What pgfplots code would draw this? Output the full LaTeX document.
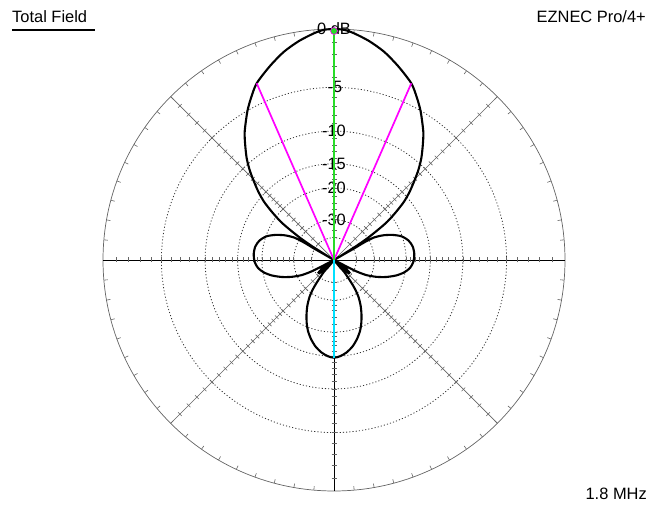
\documentclass[border=0pt]{standalone}
\usepackage{pgfplots}
\pgfplotsset{compat=1.18}
\usepackage{fontspec}
\setmainfont{Liberation Sans}
\definecolor{mag}{RGB}{255,0,255}
\definecolor{grn}{RGB}{40,220,40}
\definecolor{cyn}{RGB}{0,225,255}
\definecolor{gridg}{RGB}{100,100,100}
\definecolor{dotg}{RGB}{50,50,50}
\begin{document}
\begin{tikzpicture}
\begin{scope}[x=1bp,y=1bp,shift={(334bp,246bp)}]
% outer circle and its ticks
\draw[gridg,line width=0.7bp] (0,0) circle[radius=231bp];
\foreach \a in {0,5,...,355}{
  \draw[gridg,line width=0.6bp] (\a:231bp) -- (\a:227bp);
}
% dotted rings (ARRL log scale)
\foreach \r in {172.6,128.9,96.3,72.1,40.2,22.4}{
  \draw[dotg,line width=0.8bp,dash pattern=on 1.1bp off 2.1bp] (0,0) circle[radius=\r bp];
}
% spokes
\foreach \a in {45,135,225,315}{
  \draw[gridg,line width=0.7bp] (0,0) -- (\a:231bp);
}
\draw[black,line width=0.9bp] (-231,0) -- (231,0);
\draw[black,line width=0.9bp] (0,-231) -- (0,231);
% spoke ticks every dB
\foreach \a in {0,45,...,315}{
  \foreach \d in {1,2,...,20,22,24,26,28,30,35,40}{
    \pgfmathsetmacro{\rr}{231*0.89^(\d/2)}
    \draw[gridg,line width=0.6bp,rotate=\a] (\rr,-2.5) -- (\rr,2.5);
  }
}
\end{scope}
\begin{axis}[width=651bp,height=506bp,scale only axis,
  xmin=-334,xmax=317,ymin=-246,ymax=260,hide axis,clip=false]
\path (rel axis cs:0,0) rectangle (rel axis cs:1,1);
% ring labels
\node[font=\fontsize{16.5}{18}\selectfont,inner sep=0pt] at (axis cs:0,231) {0 dB};
\node[font=\fontsize{16.5}{18}\selectfont,inner sep=0pt] at (axis cs:1,172.6) {-5};
\node[font=\fontsize{16.5}{18}\selectfont,inner sep=0pt] at (axis cs:0,128.9) {-10};
\node[font=\fontsize{16.5}{18}\selectfont,inner sep=0pt] at (axis cs:0,96.3) {-15};
\node[font=\fontsize{16.5}{18}\selectfont,inner sep=0pt] at (axis cs:0,72.1) {-20};
\node[font=\fontsize{16.5}{18}\selectfont,inner sep=0pt] at (axis cs:0,40.2) {-30};
% pattern
\addplot[black,line width=2.1bp,smooth,tension=0.45] coordinates {
(0,231) (10,230.2) (20,226.7) (35,219) (50,208.3) (64,194) (77.3,176.7) (83,162)
(86.7,148.3) (89.3,128.3) (88.8,115) (87.3,101.7) (84.2,89.5) (80,78.3) (75.5,68)
(70,58.3) (62,48) (53.3,38.3) (44,30.2) (33.3,21.7) (22,13.8) (11,6.8) (3,1.8) (0.5,0.3)
(3,1.7) (10,5.8) (20,11.5) (30,17.5) (40,22.5) (50,24.8) (60,25) (68,23.5) (74.5,19.5)
(78.7,13.5) (80.3,6) (79.5,-1.5) (76,-8) (70,-12.5) (62,-15.5) (52,-17) (42,-16.8)
(32,-15) (22,-11.2) (12,-6.2) (4,-2.1) (0.5,-0.3)
(6.6,-4.5) (12.1,-8.8) (15.5,-12.6) (14.1,-12.7) (9.2,-9.2) (3.4,-3.7) (0.5,-0.6)
(2,-2.5) (6,-7.3) (10,-11.7) (16.7,-21.7) (21,-29) (24.5,-37) (26.7,-46) (27.5,-55)
(27.3,-63) (26,-71) (23,-79) (18.5,-86.5) (12.5,-92.5) (6,-96.3) (0,-97.7)
(-6,-96.3) (-12.5,-92.5) (-18.5,-86.5) (-23,-79) (-26,-71) (-27.3,-63) (-27.5,-55)
(-26.7,-46) (-24.5,-37) (-21,-29) (-16.7,-21.7) (-10,-11.7) (-6,-7.3) (-2,-2.5)
(-0.5,-0.6) (-3.4,-3.7) (-9.2,-9.2) (-14.1,-12.7) (-15.5,-12.6) (-12.1,-8.8) (-6.6,-4.5)
(-0.5,-0.3) (-4,-2.1) (-12,-6.2) (-22,-11.2) (-32,-15) (-42,-16.8) (-52,-17) (-62,-15.5)
(-70,-12.5) (-76,-8) (-79.5,-1.5) (-80.3,6) (-78.7,13.5) (-74.5,19.5) (-68,23.5)
(-60,25) (-50,24.8) (-40,22.5) (-30,17.5) (-20,11.5) (-10,5.8) (-3,1.7)
(-0.5,0.3) (-3,1.8) (-11,6.8) (-22,13.8) (-33.3,21.7) (-44,30.2) (-53.3,38.3) (-62,48)
(-70,58.3) (-75.5,68) (-80,78.3) (-84.2,89.5) (-87.3,101.7) (-88.8,115) (-89.3,128.3)
(-86.7,148.3) (-83,162) (-77.3,176.7) (-64,194) (-50,208.3) (-35,219) (-20,226.7)
(-10,230.2) (0,231)
};
% beamwidth and direction lines
\addplot[mag,line width=1.7bp] coordinates {(0,0) (77.3,176.7)};
\addplot[mag,line width=1.7bp] coordinates {(0,0) (-77.3,176.7)};
\addplot[grn,line width=1.7bp] coordinates {(0,0) (0,229)};
\addplot[cyn,line width=1.7bp] coordinates {(0,0) (0,-97.7)};
\addplot[only marks,mark=*,mark size=3.5bp,grn,mark options={draw=mag,line width=0.6bp}] coordinates {(0,229)};
% texts
\node[anchor=base west,font=\fontsize{16.5}{18}\selectfont,inner sep=0pt] at (axis cs:-322,237) {Total Field};
\draw[black,line width=1.5bp] (axis cs:-322,230) -- (axis cs:-239,230);
\node[anchor=base east,font=\fontsize{16.5}{18}\selectfont,inner sep=0pt] at (axis cs:312,237) {EZNEC Pro/4+};
\node[anchor=base east,font=\fontsize{16.5}{18}\selectfont,inner sep=0pt] at (axis cs:313,-239) {1.8 MHz};
\end{axis}
\end{tikzpicture}
\end{document}
